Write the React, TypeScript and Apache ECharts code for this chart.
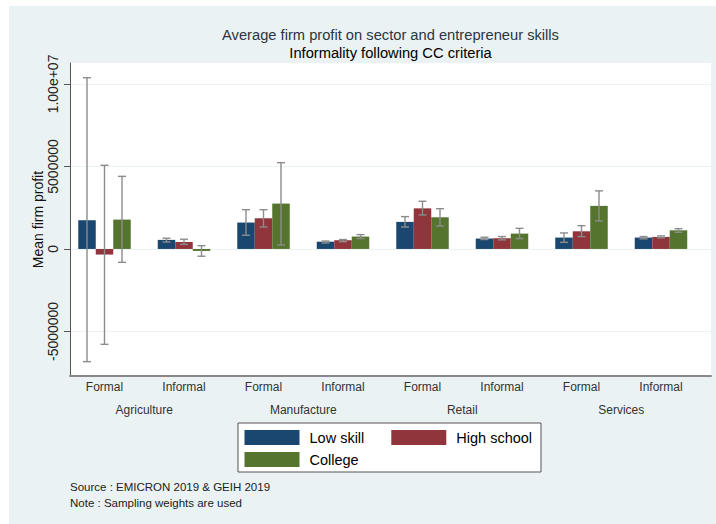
import React, { useEffect, useRef } from "react";
import * as echarts from "echarts";

// ---- data ----
const groupLabels = ["Formal", "Informal", "Formal", "Informal", "Formal", "Informal", "Formal", "Informal"];
const sectorLabels = ["Agriculture", "Manufacture", "Retail", "Services"];
const seriesNames = ["Low skill", "High school", "College"];

const lowSkill = [1.74e6, 0.55e6, 1.6e6, 0.44e6, 1.64e6, 0.63e6, 0.69e6, 0.69e6];
const highSchool = [-0.34e6, 0.42e6, 1.86e6, 0.53e6, 2.46e6, 0.65e6, 1.07e6, 0.73e6];
const college = [1.78e6, -0.12e6, 2.75e6, 0.75e6, 1.92e6, 0.93e6, 2.61e6, 1.13e6];

const lowSkillLo = [-6.83e6, 0.42e6, 0.83e6, 0.36e6, 1.33e6, 0.57e6, 0.4e6, 0.61e6];
const lowSkillHi = [10.38e6, 0.65e6, 2.38e6, 0.48e6, 1.96e6, 0.71e6, 0.97e6, 0.75e6];
const highSchoolLo = [-5.78e6, 0.28e6, 1.33e6, 0.44e6, 2.06e6, 0.55e6, 0.75e6, 0.67e6];
const highSchoolHi = [5.07e6, 0.59e6, 2.38e6, 0.57e6, 2.89e6, 0.75e6, 1.41e6, 0.79e6];
const collegeLo = [-0.81e6, -0.44e6, 0.24e6, 0.63e6, 1.39e6, 0.63e6, 1.7e6, 1.01e6];
const collegeHi = [4.4e6, 0.2e6, 5.23e6, 0.87e6, 2.44e6, 1.25e6, 3.52e6, 1.23e6];

const yTickValues = [-5e6, 0, 5e6, 1e7];
const yTickLabels = ["-5000000", "0", "5000000", "1.00e+07"];
const yMin = -7.7e6;
const yMax = 11.27e6;

const titleText = "Average firm profit on sector and entrepreneur skills";
const subtitleText = "Informality following CC criteria";
const yAxisTitle = "Mean firm profit";
const sourceText = "Source : EMICRON 2019 & GEIH 2019";
const noteText = "Note : Sampling weights are used";

// ---- styles ----
const FONT = "'Liberation Sans', Arial, Helvetica, sans-serif";
const COLORS = ["#1a476f", "#90353b", "#55752f"];
const BAR_W = 17.5;
const CAP = 4;
const ERR_COLOR = "#8c8c8c";

const values = [lowSkill, highSchool, college];
const los = [lowSkillLo, highSchoolLo, collegeLo];
const his = [lowSkillHi, highSchoolHi, collegeHi];

export default function App() {
  const ref = useRef<HTMLDivElement>(null);

  useEffect(() => {
    if (!ref.current) return;
    const chart = echarts.init(ref.current, null, { renderer: "svg" });

    const barSeries = seriesNames.map((name, s) => ({
      name,
      type: "bar",
      xAxisIndex: 0,
      yAxisIndex: 1,
      data: values[s],
      barWidth: BAR_W,
      barGap: "0%",
      itemStyle: { color: COLORS[s] },
      z: 2,
    }));

    const errSeries = seriesNames.map((name, s) => ({
      name: name + " CI",
      type: "custom",
      xAxisIndex: 0,
      yAxisIndex: 1,
      z: 5,
      data: values[s].map((_, i) => [i, los[s][i], his[s][i]]),
      encode: { x: 0, y: [1, 2] },
      renderItem: (params: any, api: any) => {
        const ci = api.value(0);
        const lo = api.coord([ci, api.value(1)]);
        const hi = api.coord([ci, api.value(2)]);
        const x = lo[0] + (s - 1) * BAR_W;
        const st = { stroke: ERR_COLOR, lineWidth: 1.4 };
        return {
          type: "group",
          children: [
            { type: "line", shape: { x1: x, y1: hi[1], x2: x, y2: lo[1] }, style: st },
            { type: "line", shape: { x1: x - CAP, y1: hi[1], x2: x + CAP, y2: hi[1] }, style: st },
            { type: "line", shape: { x1: x - CAP, y1: lo[1], x2: x + CAP, y2: lo[1] }, style: st },
          ],
        };
      },
    }));

    const legendCommon = {
      left: 244.5,
      padding: 0,
      itemWidth: 55,
      itemHeight: 15,
      itemGap: 27,
      icon: "rect",
      selectedMode: false,
      textStyle: { fontSize: 14.5, color: "#000", fontFamily: FONT, padding: [0, 0, 0, 5] },
    };

    const option: any = {
      animation: false,
      backgroundColor: "transparent",
      textStyle: { fontFamily: FONT },
      grid: [
        { left: 64.75, right: 15.25, top: 63, bottom: 148, show: false },
        { left: 70, right: 5, top: 63, bottom: 148, show: true, backgroundColor: "#ffffff", borderWidth: 0 },
      ],
      xAxis: [
        {
          type: "category",
          gridIndex: 0,
          data: groupLabels,
          position: "bottom",
          axisLine: { show: false, onZero: false },
          axisTick: { show: false },
          splitLine: { show: false },
          axisLabel: { margin: 5, fontSize: 12, color: "#333", fontFamily: FONT, interval: 0 },
        },
        {
          type: "category",
          gridIndex: 0,
          data: sectorLabels,
          position: "bottom",
          offset: 20,
          axisLine: { show: false, onZero: false },
          axisTick: { show: false },
          splitLine: { show: false },
          axisLabel: { margin: 8, fontSize: 12, color: "#333", fontFamily: FONT, interval: 0 },
        },
        {
          type: "value",
          gridIndex: 1,
          min: 0,
          max: 1,
          position: "bottom",
          axisLine: { show: true, onZero: false, lineStyle: { color: "#888", width: 2 } },
          axisTick: { show: false },
          axisLabel: { show: false },
          splitLine: { show: false },
        },
      ],
      yAxis: [
        {
          type: "value",
          gridIndex: 1,
          min: yMin,
          max: yMax,
          position: "left",
          name: yAxisTitle,
          nameLocation: "middle",
          nameRotate: 90,
          nameGap: 25,
          nameMoveOverlap: false,
          nameTextStyle: { fontSize: 14, color: "#111", fontFamily: FONT },
          axisLine: { show: true, onZero: false, lineStyle: { color: "#555", width: 1 } },
          axisTick: { show: true, length: 6, lineStyle: { color: "#555" }, customValues: yTickValues },
          axisLabel: {
            customValues: yTickValues,
            rotate: 90,
            margin: 10,
            fontSize: 14,
            color: "#222",
            fontFamily: FONT,
            formatter: (v: number) => {
              const idx = yTickValues.indexOf(v);
              return idx >= 0 ? yTickLabels[idx] : "";
            },
          },
          splitLine: { show: true, lineStyle: { color: "#eaf2f3", width: 1.2 } },
        },
        {
          type: "value",
          gridIndex: 0,
          min: yMin,
          max: yMax,
          show: false,
          splitLine: { show: false },
        },
      ],
      legend: [
        { ...legendCommon, top: 430, data: ["Low skill", "High school"] },
        { ...legendCommon, top: 452, data: ["College"] },
      ],
      graphic: [
        {
          type: "rect",
          z: 0,
          shape: { x: 238, y: 423, width: 303, height: 49 },
          style: { fill: "#ffffff", stroke: "#555", lineWidth: 1 },
          silent: true,
        },
        {
          type: "text",
          x: 390.5,
          y: 35,
          style: { text: titleText, fill: "#2b3544", font: `14.7px ${FONT}`, textAlign: "center", textVerticalAlign: "middle" },
        },
        {
          type: "text",
          x: 390.5,
          y: 53,
          style: { text: subtitleText, fill: "#000", font: `14.7px ${FONT}`, textAlign: "center", textVerticalAlign: "middle" },
        },
        {
          type: "text",
          x: 70,
          y: 487,
          style: { text: sourceText, fill: "#222", font: `11.5px ${FONT}`, textAlign: "left", textVerticalAlign: "middle" },
        },
        {
          type: "text",
          x: 70,
          y: 503,
          style: { text: noteText, fill: "#222", font: `11.5px ${FONT}`, textAlign: "left", textVerticalAlign: "middle" },
        },
      ],
      series: [...barSeries, ...errSeries],
    };

    chart.setOption(option);
    return () => chart.dispose();
  }, []);

  return (
    <div style={{ position: "fixed", left: 0, top: 0, width: 716, height: 524, background: "#ffffff" }}>
      <div style={{ position: "absolute", left: 9, top: 6, width: 707, height: 518, background: "#eaf2f3" }} />
      <div ref={ref} style={{ position: "absolute", left: 0, top: 0, width: 716, height: 524 }} />
    </div>
  );
}
